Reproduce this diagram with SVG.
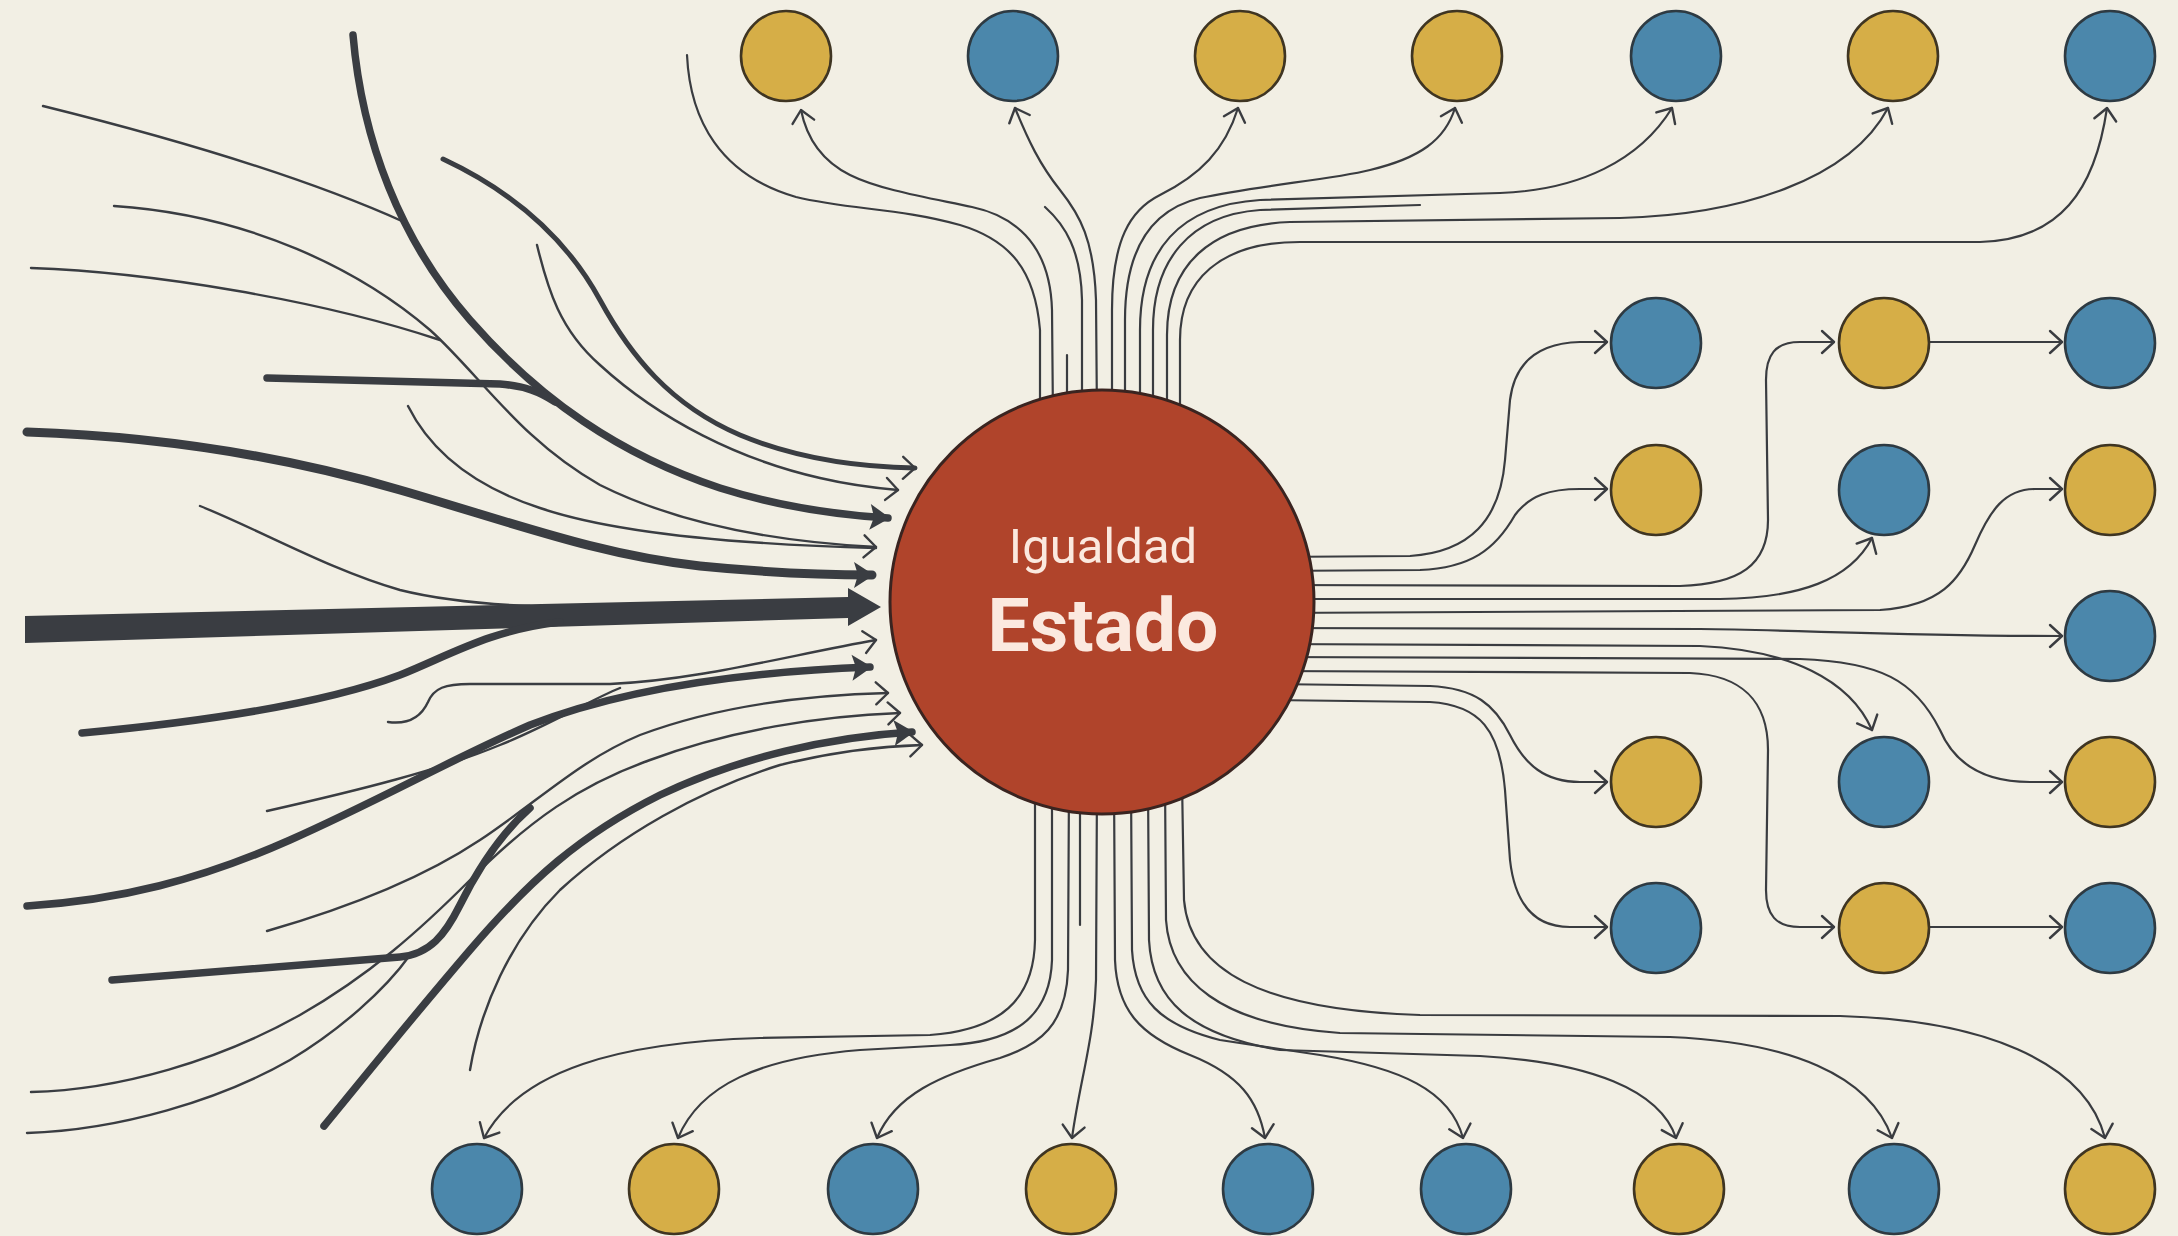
<svg xmlns="http://www.w3.org/2000/svg" width="2178" height="1236" viewBox="0 0 2178 1236">
<style>
.bg{fill:#F2EFE4}
.c{fill:none;stroke:#3a3c40;stroke-width:2.2;stroke-linecap:round;stroke-linejoin:round}
.in{fill:none;stroke:#3a3d42;stroke-linecap:round;stroke-linejoin:round}
.t1{stroke-width:2.4}
.t5{stroke-width:5}
.t7{stroke-width:7.5}
.t9{stroke-width:9}
.blue{fill:#4B87AB;stroke:#2e3a42;stroke-width:2.6}
.yel{fill:#D6AE47;stroke:#3f3522;stroke-width:2.6}
.hub{fill:#B0442B;stroke:#3a2420;stroke-width:3}
.lab{font-family:Roboto,"Liberation Sans",sans-serif;fill:#FBE9DF;text-anchor:middle}
</style>
<defs>
<marker id="ch" markerUnits="userSpaceOnUse" markerWidth="30" markerHeight="30" viewBox="0 0 30 30" refX="26" refY="15" orient="auto">
<path d="M14 4 L26 15 L14 26" fill="none" stroke="#3a3c40" stroke-width="2.4" stroke-linecap="round" stroke-linejoin="round"/>
</marker>
<marker id="tri" markerUnits="userSpaceOnUse" markerWidth="30" markerHeight="30" viewBox="0 0 30 30" refX="24" refY="15" orient="auto">
<path d="M6 2 L26 15 L6 28 L10 15 Z" fill="#3a3d42"/>
</marker>
</defs>
<rect class="bg" x="0" y="0" width="2178" height="1236"/>

<g id="connectors">
<path class="in t5" d="M443 159 C520 195 570 245 600 300 C630 355 670 405 740 435 C800 460 860 467 915 468" marker-end="url(#ch)"/>
<path class="in t1" d="M537 245 C548 290 560 330 600 365 C660 420 740 460 820 478 C850 485 875 488 898 490" marker-end="url(#ch)"/>
<path class="in t7" d="M353 35 C362 140 400 240 470 320 C540 400 620 455 720 488 C780 507 840 515 888 518" marker-end="url(#tri)"/>
<path class="in t1" d="M114 206 C250 215 360 270 430 330 C480 375 520 440 600 485 C680 525 780 542 876 547" marker-end="url(#ch)"/>
<path class="in t1" d="M408 406 C430 450 470 485 540 508 C620 535 760 545 876 548"/>
<path class="in t9" d="M27 432 C150 436 280 455 400 490 C520 525 600 555 700 566 C770 573 830 575 872 575" marker-end="url(#tri)"/>
<path class="in t1" d="M43 106 C160 135 300 175 404 222"/>
<path class="in t1" d="M31 268 C150 272 320 300 440 340"/>
<path class="in t7" d="M267 378 L500 384 C525 386 540 392 555 402"/>
<path class="in t1" d="M200 506 C260 530 330 570 400 590 C440 600 480 604 530 606"/>
<path d="M25 616 L848 597 L848 588 L881 607 L848 626 L848 618 L25 643 Z" fill="#3a3d42"/>
<path class="in t7" d="M82 733 C200 722 320 705 400 675 C450 655 490 630 560 622"/>
<path class="in t1" d="M388 722 C410 725 422 715 428 702 C434 688 445 684 470 684 L610 684 C700 680 790 655 876 640" marker-end="url(#ch)"/>
<path class="in t1" d="M267 811 C360 790 440 770 500 745 C550 725 590 700 620 688"/>
<path class="in t7" d="M27 906 C120 900 200 880 290 840 C380 800 450 760 530 725 C620 690 740 672 870 667" marker-end="url(#tri)"/>
<path class="in t1" d="M267 931 C340 910 420 880 480 840 C540 800 580 760 640 735 C720 705 810 695 888 693" marker-end="url(#ch)"/>
<path class="in t7" d="M112 980 L400 957 C430 954 445 935 460 905 C480 865 505 830 530 808"/>
<path class="in t1" d="M31 1092 C120 1090 220 1060 300 1015 C370 975 420 930 470 880 C530 820 580 785 650 760 C730 730 820 716 900 713" marker-end="url(#ch)"/>
<path class="in t1" d="M27 1133 C120 1130 220 1100 290 1060 C340 1030 385 990 410 955"/>
<path class="in t7" d="M324 1126 C370 1070 410 1020 470 950 C530 880 580 835 660 795 C740 757 830 737 912 732" marker-end="url(#tri)"/>
<path class="in t1" d="M470 1070 C480 1010 510 940 560 890 C620 835 700 790 780 765 C840 750 890 746 922 745" marker-end="url(#ch)"/>

<path class="c" d="M687 55 C690 120 720 175 796 197 C850 210 900 208 960 225 C1010 240 1035 270 1040 330 L1040 420"/>
<path class="c" d="M1053 420 L1052 310 C1050 240 1010 215 972 207 C930 198 880 190 850 175 C820 160 806 135 801 110" marker-end="url(#ch)"/>
<path class="c" d="M1067 420 L1067 355"/>
<path class="c" d="M1082 420 L1082 300 C1081 250 1065 225 1045 207"/>
<path class="c" d="M1097 420 L1096 300 C1094 240 1080 215 1060 190 C1040 165 1028 140 1015 108" marker-end="url(#ch)"/>
<path class="c" d="M1112 420 L1112 310 C1112 240 1130 210 1160 195 C1200 175 1225 150 1238 108" marker-end="url(#ch)"/>
<path class="c" d="M1125 420 L1125 320 C1125 250 1150 210 1200 198 C1260 185 1330 180 1370 170 C1420 158 1445 140 1455 108" marker-end="url(#ch)"/>
<path class="c" d="M1140 420 L1140 330 C1140 250 1180 205 1260 200 L1500 193 C1580 190 1640 160 1672 108" marker-end="url(#ch)"/>
<path class="c" d="M1153 420 L1153 330 C1153 260 1190 215 1260 210 L1420 205"/>
<path class="c" d="M1167 420 L1167 335 C1167 265 1210 225 1290 222 L1620 218 C1740 215 1850 180 1888 108" marker-end="url(#ch)"/>
<path class="c" d="M1180 420 L1180 340 C1180 280 1220 242 1300 242 L1980 242 C2060 240 2095 190 2107 108" marker-end="url(#ch)"/>

<path class="c" d="M1035 780 L1035 940 C1034 1000 1000 1030 930 1035 L760 1038 C620 1042 520 1070 484 1138" marker-end="url(#ch)"/>
<path class="c" d="M1052 780 L1052 960 C1050 1020 1010 1042 950 1045 L860 1050 C760 1058 700 1085 678 1138" marker-end="url(#ch)"/>
<path class="c" d="M1069 780 L1068 970 C1066 1025 1040 1045 1000 1058 C940 1075 895 1095 877 1138" marker-end="url(#ch)"/>
<path class="c" d="M1080 780 L1080 925"/>
<path class="c" d="M1097 780 L1096 980 C1094 1040 1080 1080 1072 1138" marker-end="url(#ch)"/>
<path class="c" d="M1114 780 L1115 960 C1117 1010 1140 1035 1190 1055 C1240 1075 1258 1100 1265 1138" marker-end="url(#ch)"/>
<path class="c" d="M1131 780 L1132 950 C1135 1000 1160 1025 1220 1040 L1320 1055 C1400 1068 1450 1090 1463 1138" marker-end="url(#ch)"/>
<path class="c" d="M1148 780 L1149 940 C1152 1000 1190 1035 1280 1050 L1480 1056 C1590 1062 1660 1090 1676 1138" marker-end="url(#ch)"/>
<path class="c" d="M1165 780 L1166 920 C1170 980 1220 1025 1340 1033 L1670 1037 C1790 1042 1870 1075 1892 1138" marker-end="url(#ch)"/>
<path class="c" d="M1182 780 L1184 900 C1190 970 1260 1010 1420 1015 L1840 1016 C1980 1020 2085 1060 2105 1138" marker-end="url(#ch)"/>

<path class="c" d="M1270 557 L1410 556 C1470 552 1500 520 1505 460 L1510 400 C1515 360 1540 343 1580 342 L1607 342" marker-end="url(#ch)"/>
<path class="c" d="M1270 571 L1420 570 C1470 568 1495 550 1515 515 C1530 495 1550 489 1580 489 L1607 489" marker-end="url(#ch)"/>
<path class="c" d="M1270 585 L1680 586 C1740 584 1768 565 1768 520 L1766 380 C1766 355 1775 342 1800 342 L1834 342" marker-end="url(#ch)"/>
<path class="c" d="M1270 599 L1720 599 C1800 598 1850 580 1872 538" marker-end="url(#ch)"/>
<path class="c" d="M1270 613 L1880 610 C1940 606 1960 580 1975 545 C1990 510 2005 489 2035 489 L2062 489" marker-end="url(#ch)"/>
<path class="c" d="M1270 628 L1700 629 C1800 630 1900 636 2062 636" marker-end="url(#ch)"/>
<path class="c" d="M1270 644 L1700 646 C1790 650 1850 680 1872 730" marker-end="url(#ch)"/>
<path class="c" d="M1270 657 L1800 659 C1880 662 1915 680 1940 730 C1955 765 1985 782 2030 782 L2062 782" marker-end="url(#ch)"/>
<path class="c" d="M1270 671 L1690 673 C1740 675 1768 700 1768 750 L1766 890 C1766 915 1776 927 1800 927 L1834 927" marker-end="url(#ch)"/>
<path class="c" d="M1270 684 L1430 686 C1475 688 1495 705 1510 735 C1525 765 1545 782 1580 782 L1607 782" marker-end="url(#ch)"/>
<path class="c" d="M1270 700 L1430 702 C1480 705 1500 730 1505 790 L1510 860 C1515 905 1535 927 1570 927 L1607 927" marker-end="url(#ch)"/>
<path class="c" d="M1930 342 L2062 342" marker-end="url(#ch)"/>
<path class="c" d="M1930 927 L2062 927" marker-end="url(#ch)"/>
</g>

<g id="estado">
<circle class="hub" cx="1102" cy="602" r="212"/>
<text class="lab" x="1103" y="563" font-size="49">Igualdad</text>
<text class="lab" x="1103" y="651" font-size="75" font-weight="bold">Estado</text>
</g>

<g id="top-1"><circle class="yel" cx="786" cy="56" r="45"/></g>
<g id="top-2"><circle class="blue" cx="1013" cy="56" r="45"/></g>
<g id="top-3"><circle class="yel" cx="1240" cy="56" r="45"/></g>
<g id="top-4"><circle class="yel" cx="1457" cy="56" r="45"/></g>
<g id="top-5"><circle class="blue" cx="1676" cy="56" r="45"/></g>
<g id="top-6"><circle class="yel" cx="1893" cy="56" r="45"/></g>
<g id="top-7"><circle class="blue" cx="2110" cy="56" r="45"/></g>

<g id="r1c1"><circle class="blue" cx="1656" cy="343" r="45"/></g>
<g id="r1c2"><circle class="yel" cx="1884" cy="343" r="45"/></g>
<g id="r1c3"><circle class="blue" cx="2110" cy="343" r="45"/></g>
<g id="r2c1"><circle class="yel" cx="1656" cy="490" r="45"/></g>
<g id="r2c2"><circle class="blue" cx="1884" cy="490" r="45"/></g>
<g id="r2c3"><circle class="yel" cx="2110" cy="490" r="45"/></g>
<g id="r3c3"><circle class="blue" cx="2110" cy="636" r="45"/></g>
<g id="r4c1"><circle class="yel" cx="1656" cy="782" r="45"/></g>
<g id="r4c2"><circle class="blue" cx="1884" cy="782" r="45"/></g>
<g id="r4c3"><circle class="yel" cx="2110" cy="782" r="45"/></g>
<g id="r5c1"><circle class="blue" cx="1656" cy="928" r="45"/></g>
<g id="r5c2"><circle class="yel" cx="1884" cy="928" r="45"/></g>
<g id="r5c3"><circle class="blue" cx="2110" cy="928" r="45"/></g>

<g id="bot-1"><circle class="blue" cx="477" cy="1189" r="45"/></g>
<g id="bot-2"><circle class="yel" cx="674" cy="1189" r="45"/></g>
<g id="bot-3"><circle class="blue" cx="873" cy="1189" r="45"/></g>
<g id="bot-4"><circle class="yel" cx="1071" cy="1189" r="45"/></g>
<g id="bot-5"><circle class="blue" cx="1268" cy="1189" r="45"/></g>
<g id="bot-6"><circle class="blue" cx="1466" cy="1189" r="45"/></g>
<g id="bot-7"><circle class="yel" cx="1679" cy="1189" r="45"/></g>
<g id="bot-8"><circle class="blue" cx="1894" cy="1189" r="45"/></g>
<g id="bot-9"><circle class="yel" cx="2110" cy="1189" r="45"/></g>
</svg>
